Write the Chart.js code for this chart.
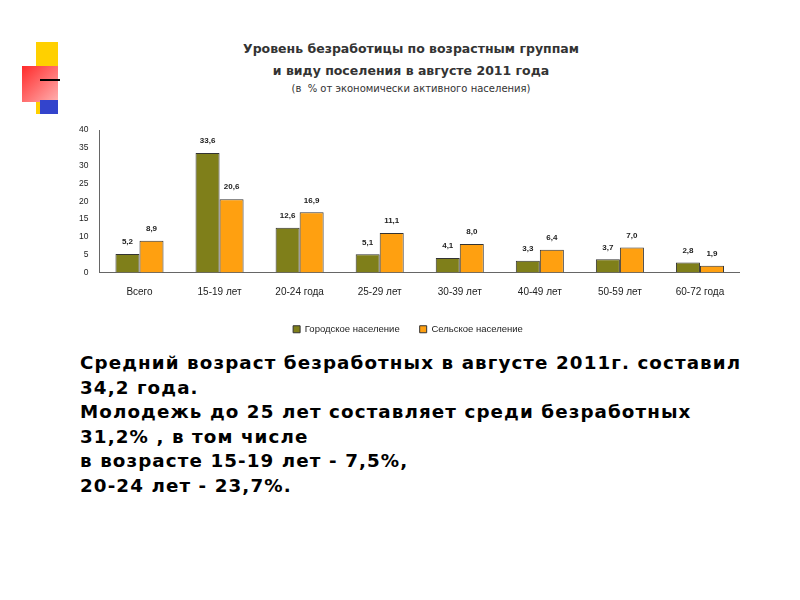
<!DOCTYPE html>
<html><head><meta charset="utf-8">
<script src="https://cdn.jsdelivr.net/npm/chart.js@4/dist/chart.umd.min.js"></script>
<style>
body{margin:0;width:800px;height:600px;background:#fff;position:relative;font-family:Arial,"Liberation Sans",sans-serif;overflow:hidden}
.t{position:absolute;left:0;width:822px;text-align:center;color:#333;font-weight:bold;font-family:"DejaVu Sans",sans-serif}
#wrap{position:absolute;left:76px;top:122px;width:664px;height:222px}
#txt{position:absolute;left:80px;top:351px;font-size:18.3px;letter-spacing:1.1px;font-weight:bold;line-height:24.5px;color:#000;font-family:"DejaVu Sans",sans-serif}
</style></head><body>
<div style="position:absolute;left:36px;top:42px;width:22px;height:72px;background:#ffd000"></div>
<div style="position:absolute;left:22px;top:66px;width:36px;height:36px;background:linear-gradient(135deg,#ff2a2a,#ffb0b0)"></div>
<div style="position:absolute;left:40px;top:100px;width:18px;height:14px;background:#3344cc"></div>
<div style="position:absolute;left:40px;top:79px;width:20px;height:2px;background:#000"></div>
<div class="t" style="top:41px;font-size:12.5px">Уровень безработицы по возрастным группам</div>
<div class="t" style="top:63px;font-size:12.5px">и виду поселения в августе 2011 года</div>
<div class="t" style="top:83px;font-size:10px;font-weight:normal">(в&nbsp;&nbsp;% от экономически активного населения)</div>
<div id="wrap"><canvas id="c"></canvas></div>
<div id="txt">Средний возраст безработных в августе 2011г. составил<br>34,2 года.<br>Молодежь до 25 лет составляет среди безработных<br>31,2% , в том числе<br>в возрасте 15-19 лет - 7,5%,<br>20-24 лет - 23,7%.</div>
<script>
const categories=["Всего","15-19 лет","20-24 года","25-29 лет","30-39 лет","40-49 лет","50-59 лет","60-72 года"];
const urban=[5.2,33.6,12.6,5.1,4.1,3.3,3.7,2.8];
const rural=[8.9,20.6,16.9,11.1,8.0,6.4,7.0,1.9];
const seriesNames=["Городское население","Сельское население"];
const yTicks=[0,5,10,15,20,25,30,35,40];
const labelPlugin={id:'lbl',afterDatasetsDraw(ch){const x=ch.ctx;x.save();x.font='bold 8px Arial';x.fillStyle='#222';x.textAlign='center';
ch.data.datasets.forEach((d,i)=>{ch.getDatasetMeta(i).data.forEach((b,j)=>{x.fillText(d.data[j].toFixed(1).replace('.',','),b.x,b.y-12);});});x.restore();}};
new Chart(document.getElementById('c'),{type:'bar',
data:{labels:categories,datasets:[
{label:seriesNames[0],data:urban,backgroundColor:'#7f7f1a',borderColor:'#333',borderWidth:1,categoryPercentage:0.6,barPercentage:1},
{label:seriesNames[1],data:rural,backgroundColor:'#ffa010',borderColor:'#333',borderWidth:1,categoryPercentage:0.6,barPercentage:1}]},
options:{responsive:true,maintainAspectRatio:false,animation:false,layout:{padding:{top:2}},
plugins:{legend:{position:'bottom',labels:{boxWidth:7,boxHeight:7,font:{size:9.5},color:'#222',padding:20}},tooltip:{enabled:false}},
scales:{x:{grid:{display:false},border:{color:'#666'},ticks:{font:{size:10},color:'#222',padding:6}},
y:{min:0,max:40,afterBuildTicks:a=>{a.ticks=yTicks.map(v=>({value:v}));},grid:{display:false},border:{color:'#666'},ticks:{font:{size:8.5},color:'#222'}}}},
plugins:[labelPlugin]});
</script></body></html>
